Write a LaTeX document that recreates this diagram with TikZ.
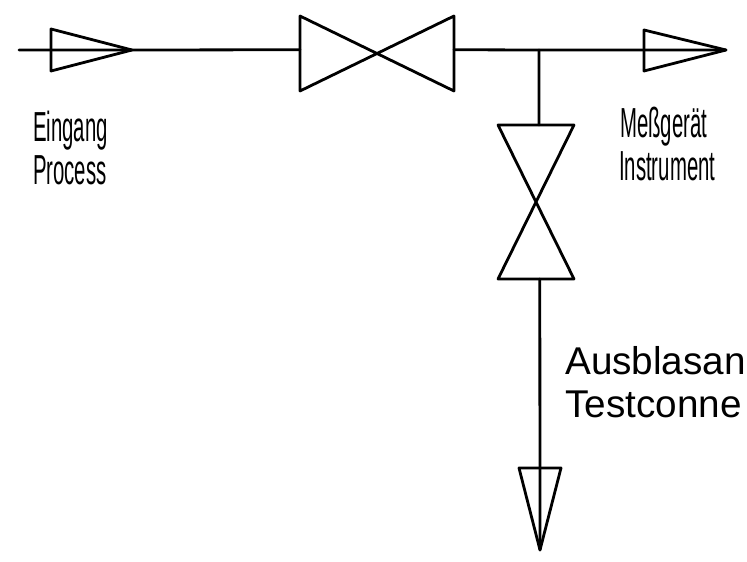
\documentclass[tikz,border=0pt]{standalone}
\usepackage{fontspec}
\setmainfont{Liberation Sans}
\usetikzlibrary{calc}
\tikzset{
  pipe/.style={line width=2.8pt,line cap=round,line join=round},
  narrowlabel/.style={anchor=base west,inner sep=0pt,font=\fontsize{42}{46}\selectfont,xscale=0.485},
  widelabel/.style={anchor=base west,inner sep=0pt,font=\fontsize{38.7}{43}\selectfont}
}
\begin{document}
\begin{tikzpicture}[x=1pt,y=-1pt]
    \useasboundingbox (0,0) rectangle (747,562);
    % entree
    \coordinate (inStart) at (19,50);
    \coordinate (inTop) at (51,29);
    \coordinate (inBot) at (51,71);
    \coordinate (inTip) at (132,50);
    \draw[pipe] (inTop) -- (inBot) -- (inTip) -- cycle;
    % vanne horizontale
    \coordinate (hvA) at (300,16);
    \coordinate (hvB) at (300,91);
    \coordinate (hvC) at (454,91);
    \coordinate (hvD) at (454,16);
    \draw[pipe] (hvA) -- (hvB) -- (hvD) -- (hvC) -- cycle;
    % sortie
    \coordinate (outTop) at (644,30);
    \coordinate (outBot) at (644,71);
    \coordinate (outTip) at (726,50);
    \draw[pipe] (outTop) -- (outBot) -- (outTip) -- cycle;
    % vanne verticale
    \coordinate (vvA) at (498,125);
    \coordinate (vvB) at (574,125);
    \coordinate (vvC) at (574,279);
    \coordinate (vvD) at (498,279);
    \draw[pipe] (vvA) -- (vvB) -- (vvD) -- (vvC) -- cycle;
    % ausblas
    \coordinate (testLeft) at (519,468);
    \coordinate (testRight) at (561,468);
    \coordinate (testTip) at (540,550);
    \draw[pipe] (testLeft) -- (testRight) -- (testTip) -- cycle;
    % conduites
    \coordinate (tee) at (539,50);
    \coordinate (vvIn) at ($(vvA)!0.54!(vvB)$);
    \coordinate (vvOut) at ($(vvD)!0.55!(vvC)$);
    \draw[pipe] (inStart) -- (inTip) -- ($(hvA)!0.45!(hvB)$);
    \draw[pipe] ($(hvD)!0.45!(hvC)$) -- (tee) -- (outTip);
    \draw[pipe] (tee) -- (vvIn);
    \draw[pipe] (vvOut) -- (testTip);
    % textes
    \node[narrowlabel] (eingang) at (33,141) {Eingang};
    \node[narrowlabel] (process) at (33,184) {Process};
    \node[narrowlabel] (messgeraet) at (620,137) {Meßgerät};
    \node[narrowlabel] (instrument) at (619,180) {Instrument};
    \node[widelabel] (ausblasan) at (565,374) {Ausblasan};
    \node[widelabel] (testconne) at (565,417) {Testconne};
\end{tikzpicture}
\end{document}
